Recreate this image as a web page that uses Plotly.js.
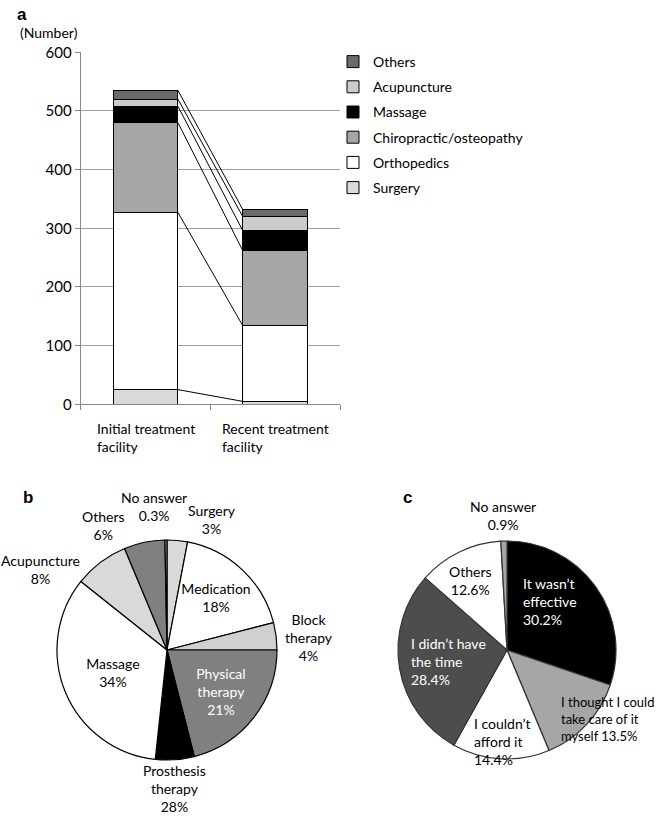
<!DOCTYPE html>
<html>
<head>
<meta charset="utf-8">
<script src="https://cdn.plot.ly/plotly-3.0.1.min.js"></script>
<style>body{margin:0;background:#fff}</style>
</head>
<body>
<div id="chart"></div>
<script>
// panel a: facilities visited (number of respondents)
const facilities = ['Initial treatment facility', 'Recent treatment facility'];
const facilityLabels = ['Initial treatment<br>facility', 'Recent treatment<br>facility'];
const surgery = [25, 5];
const orthopedics = [302, 129];
const chiropractic = [153, 128];
const massage = [28, 34];
const acupuncture = [12, 24];
const othersA = [15, 12];

// panel b: treatment received
const treatB = ['Surgery', 'Medication', 'Block therapy', 'Physical therapy', 'Prosthesis therapy',
  'Massage', 'Acupuncture', 'Others', 'No answer'];
const shareB = [3, 18, 4, 21, 5.7, 34, 8, 6, 0.3];
const textB = ['Surgery<br>3%', 'Medication<br>18%', 'Block<br>therapy<br>4%', 'Physical<br>therapy<br>21%',
  'Prosthesis<br>therapy<br>28%', 'Massage<br>34%', 'Acupuncture<br>8%', 'Others<br>6%', 'No answer<br>0.3%'];

// panel c: reasons for stopping
const reasonC = ['It wasn’t effective', 'I thought I could take care of it myself', 'I couldn’t afford it',
  'I didn’t have the time', 'Others', 'No answer'];
const shareC = [30.2, 13.5, 14.4, 28.4, 12.6, 0.9];
const textC = ['It wasn’t<br>effective<br>30.2%', 'I thought I could<br>take care of it<br>myself 13.5%',
  'I couldn’t<br>afford it<br>14.4%', 'I didn’t have<br>the time<br>28.4%', 'Others<br>12.6%', 'No answer<br>0.9%'];

const W = 658, H = 818;
const font = 'Lato, "Open Sans", sans-serif';

const stack = [
  {name: 'Surgery', y: surgery, color: '#d9d9d9'},
  {name: 'Orthopedics', y: orthopedics, color: '#ffffff'},
  {name: 'Chiropractic/osteopathy', y: chiropractic, color: '#a6a6a6'},
  {name: 'Massage', y: massage, color: '#000000'},
  {name: 'Acupuncture', y: acupuncture, color: '#cccccc'},
  {name: 'Others', y: othersA, color: '#6a6a6a'}
];

// top of the stack first in the legend
const traces = stack.map((s, i) => ({
  type: 'bar', x: facilities, y: s.y, name: s.name, width: 0.5,
  legendgroup: s.name, legendrank: stack.length - i,
  marker: {color: s.color, line: {color: '#000', width: 1}},
  hoverinfo: 'name+y'
}));

// connector lines between the tops of each segment
let cum = [0, 0];
const cx = [], cy = [];
stack.forEach(s => {
  cum = cum.map((c, i) => c + s.y[i]);
  cx.push(0.25, 0.75, null);
  cy.push(cum[0], cum[1], null);
});
traces.push({
  type: 'scatter', mode: 'lines', x: cx, y: cy, xaxis: 'x2', yaxis: 'y',
  line: {color: '#000', width: 1}, showlegend: false, hoverinfo: 'skip'
});

// pie b: inside labels drawn by plotly, outside ones as annotations below
const insideB = ['Medication', 'Physical therapy', 'Massage'];
traces.push({
  type: 'pie', labels: treatB, values: shareB, text: textB, textinfo: 'text', sort: false,
  direction: 'clockwise', rotation: 0,
  domain: {x: [57 / W, 277 / W], y: [1 - 760 / H, 1 - 540 / H]},
  marker: {colors: ['#d9d9d9', '#ffffff', '#d0d0d0', '#808080', '#000000', '#ffffff', '#d9d9d9', '#808080', '#a0a0a0'],
    line: {color: '#000', width: 1.2}},
  textposition: treatB.map(t => insideB.includes(t) ? 'inside' : 'none'),
  insidetextorientation: 'horizontal',
  insidetextfont: {color: treatB.map(t => t === 'Physical therapy' ? '#fff' : '#000'), size: 14, family: font},
  showlegend: false, hoverinfo: 'label+value'
});

traces.push({
  type: 'pie', labels: reasonC, values: shareC, textinfo: 'none', sort: false,
  direction: 'clockwise', rotation: 0,
  domain: {x: [398 / W, 616 / W], y: [1 - 759 / H, 1 - 541 / H]},
  marker: {colors: ['#000000', '#a6a6a6', '#ffffff', '#4d4d4d', '#ffffff', '#a6a6a6'],
    line: {color: '#333', width: 1.2}},
  showlegend: false, hoverinfo: 'label+value'
});

const annotations = [
  {text: '<b>a</b>', x: 15 / W, y: 1 - 3 / H},
  {text: '<b>b</b>', x: 21 / W, y: 1 - 486 / H},
  {text: '<b>c</b>', x: 401 / W, y: 1 - 486 / H},
].map(a => Object.assign({xref: 'paper', yref: 'paper', xanchor: 'left', yanchor: 'top',
  showarrow: false, font: {family: 'Liberation Sans, Arial', size: 17, color: '#000'}}, a));

annotations.push({text: '(Number)', xref: 'paper', yref: 'paper', x: 18 / W, y: 1 - 22 / H,
  xanchor: 'left', yanchor: 'top', showarrow: false, font: {family: font, size: 14, color: '#000'}});

facilityLabels.forEach((t, i) => annotations.push({
  text: t, xref: 'x', yref: 'y', x: i, y: 0, yshift: -14, xanchor: 'center', yanchor: 'top',
  align: 'left', showarrow: false, font: {family: font, size: 14, color: '#000'}
}));

// label spots (px from top-left) for pie labels that sit outside or spill over slices
const spotB = {
  'No answer': [154, 487, 'center'], 'Others': [103, 506, 'center'], 'Surgery': [212, 500, 'center'],
  'Acupuncture': [40, 550, 'center'], 'Block therapy': [309, 609, 'center'],
  'Prosthesis therapy': [174, 760, 'center']
};
treatB.forEach((t, i) => {
  const s = spotB[t];
  if (!s) return;
  annotations.push({text: textB[i], xref: 'paper', yref: 'paper', x: s[0] / W, y: 1 - s[1] / H,
    xanchor: s[2], yanchor: 'top', align: 'center', showarrow: false,
    font: {family: font, size: 14, color: '#000'}});
});

const spotC = [[521, 573, 'left', '#fff', 14], [656, 692, 'right', '#000', 13], [472, 713, 'left', '#000', 14],
  [409, 633, 'left', '#fff', 14], [470, 561, 'center', '#000', 14], [503, 496, 'center', '#000', 14]];
reasonC.forEach((t, i) => {
  const s = spotC[i];
  annotations.push({text: textC[i], xref: 'paper', yref: 'paper', x: s[0] / W, y: 1 - s[1] / H,
    xanchor: s[2], yanchor: 'top', align: s[2] === 'center' ? 'center' : 'left', showarrow: false,
    font: {family: font, size: s[4], color: s[3]}});
});

const layout = {
  width: W, height: H, margin: {l: 0, r: 0, t: 0, b: 0},
  paper_bgcolor: '#fff', plot_bgcolor: '#fff',
  font: {family: font, size: 14, color: '#000'},
  barmode: 'stack', showlegend: true,
  uniformtext: {mode: 'show', minsize: 14},
  xaxis: {type: 'category', domain: [80.7 / W, 340 / W], anchor: 'y', tickson: 'boundaries',
    ticks: 'outside', ticklen: 5, tickcolor: '#888', showline: true, linecolor: '#888',
    showgrid: false, showticklabels: false, fixedrange: true},
  xaxis2: {overlaying: 'x', range: [-0.5, 1.5], visible: false, anchor: 'y'},
  yaxis: {domain: [1 - 404.3 / H, 1 - 52.3 / H], range: [0, 600], dtick: 100,
    ticks: 'outside', ticklen: 5, tickcolor: '#888', showline: true, linecolor: '#888',
    gridcolor: '#a0a0a0', zeroline: false, tickfont: {size: 15}},
  legend: {x: 333 / W, y: 1 - 46 / H, xanchor: 'left', yanchor: 'top', traceorder: 'grouped',
    tracegroupgap: 4, font: {size: 14}, bgcolor: 'rgba(0,0,0,0)'},
  annotations: annotations
};

Plotly.newPlot('chart', traces, layout, {displayModeBar: false, staticPlot: true});
</script>
</body>
</html>
